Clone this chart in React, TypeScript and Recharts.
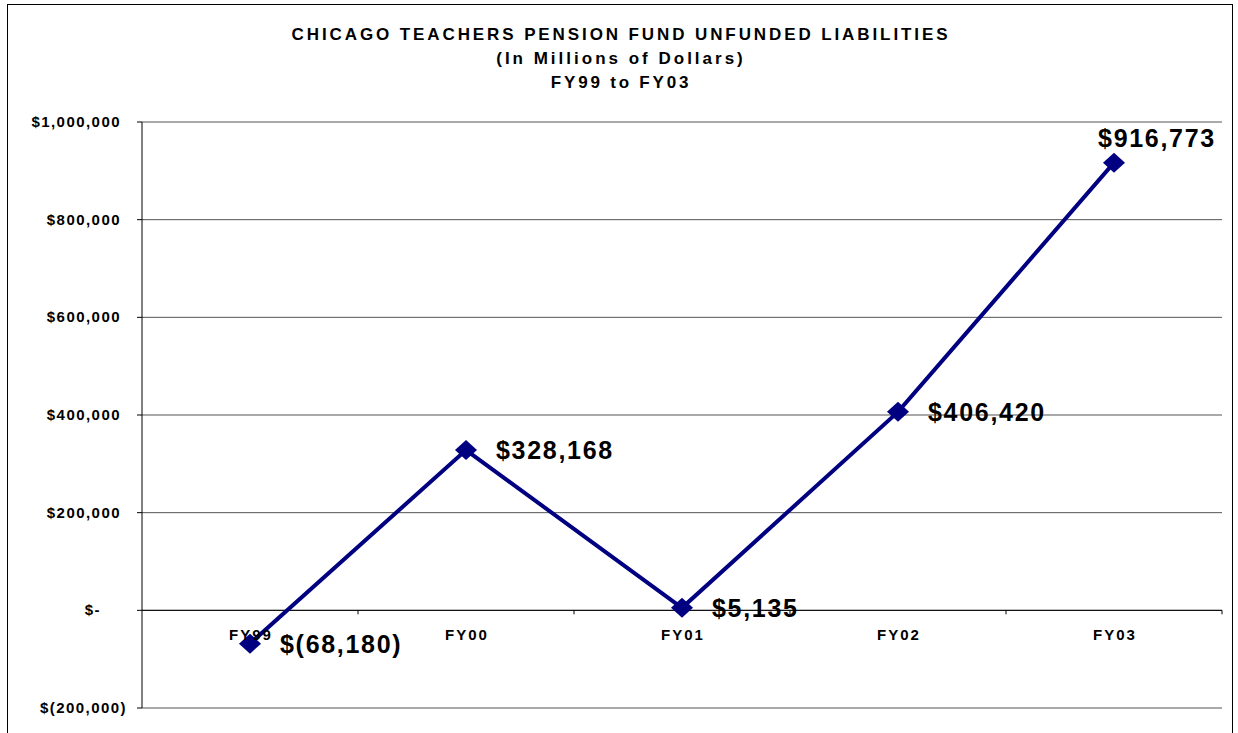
import React from 'react';
import { LineChart, Line, XAxis, YAxis, CartesianGrid, ReferenceLine, LabelList } from 'recharts';

const categories = ['FY99', 'FY00', 'FY01', 'FY02', 'FY03'];
const liabilities = [-68180, 328168, 5135, 406420, 916773];
const yTicks = [-200000, 0, 200000, 400000, 600000, 800000, 1000000];

const data = categories.map((year, i) => ({ year, value: liabilities[i] }));

const Y_MIN = -200000;
const Y_MAX = 1000000;
const TOP = 122;
const PLOT_H = 586;
const PLOT_W = 1080;
const BAND = PLOT_W / categories.length;
const ZERO_Y = TOP + (PLOT_H * (Y_MAX - 0)) / (Y_MAX - Y_MIN);

const FONT = '"Liberation Sans", Arial, sans-serif';
const NAVY = '#000080';

const money = (v: number) => {
  if (v === 0) return '$-';
  const s = Math.abs(v).toLocaleString('en-US');
  return v < 0 ? `$(${s})` : `$${s}`;
};

const YTick = (props: any) => {
  const { x, y, payload } = props;
  const v = payload.value;
  const dx = v < 0 ? 0 : v === 0 ? -26 : -6;
  return (
    <text x={x + dx} y={y} dy={5} textAnchor="end" fontFamily={FONT} fontWeight="bold"
      fontSize={15} letterSpacing={1.45} fill="#000">
      {money(v)}
    </text>
  );
};

const XTick = (props: any) => {
  const { x, payload } = props;
  return (
    <g>
      <line x1={x + BAND / 2} x2={x + BAND / 2} y1={ZERO_Y} y2={ZERO_Y + 4} stroke="#000" />
      <text x={x + 1} y={ZERO_Y + 30} textAnchor="middle" fontFamily={FONT} fontWeight="bold"
        fontSize={15} letterSpacing={2} fill="#000">
        {payload.value}
      </text>
    </g>
  );
};

const Diamond = (props: any) => {
  const { cx, cy, index } = props;
  if (cx == null || cy == null) return null;
  return (
    <polygon key={`d${index}`} fill={NAVY}
      points={`${cx - 11},${cy} ${cx},${cy - 10} ${cx + 11},${cy} ${cx},${cy + 10}`} />
  );
};

const ValueLabel = (props: any) => {
  const { x, y, value, index } = props;
  const last = index === liabilities.length - 1;
  return (
    <text x={last ? x + 43 : x + 30} y={last ? y - 16 : y + 9}
      textAnchor={last ? 'middle' : 'start'} fontFamily={FONT} fontWeight="bold"
      fontSize={25} letterSpacing={1.7} fill="#000">
      {money(value)}
    </text>
  );
};

export default function App() {
  return (
    <div style={{ position: 'absolute', left: 0, top: 0, width: 1238, height: 733, overflow: 'hidden', background: '#fff' }}>
      <div style={{ position: 'absolute', left: 7, top: 4, width: 1224, height: 760, border: '1px solid #000' }} />
      <div style={{ position: 'absolute', left: 0, top: 23, width: 1242, textAlign: 'center', fontFamily: FONT,
        fontWeight: 'bold', fontSize: 17, lineHeight: '24px', color: '#000' }}>
        <div style={{ letterSpacing: 2.9 }}>CHICAGO TEACHERS PENSION FUND UNFUNDED LIABILITIES</div>
        <div style={{ letterSpacing: 3 }}>(In Millions of Dollars)</div>
        <div style={{ letterSpacing: 2.8 }}>FY99 to FY03</div>
      </div>
      <div style={{ position: 'absolute', left: 0, top: 0 }}>
        <LineChart width={1238} height={733} data={data} margin={{ top: TOP, right: 16, bottom: 5, left: 0 }}>
          <CartesianGrid vertical={false} stroke="#555" />
          <XAxis dataKey="year" height={20} axisLine={false} tickLine={false} tick={<XTick />}
            padding={{ left: BAND / 2, right: BAND / 2 }} interval={0} />
          <YAxis width={142} domain={[Y_MIN, Y_MAX]} ticks={yTicks} interval={0} tickSize={5}
            tickMargin={10} stroke="#000" tick={<YTick />} />
          <ReferenceLine y={0} stroke="#000" />
          <Line dataKey="value" stroke={NAVY} strokeWidth={4} dot={<Diamond />} activeDot={false}
            isAnimationActive={false}>
            <LabelList dataKey="value" content={<ValueLabel />} />
          </Line>
        </LineChart>
      </div>
    </div>
  );
}
